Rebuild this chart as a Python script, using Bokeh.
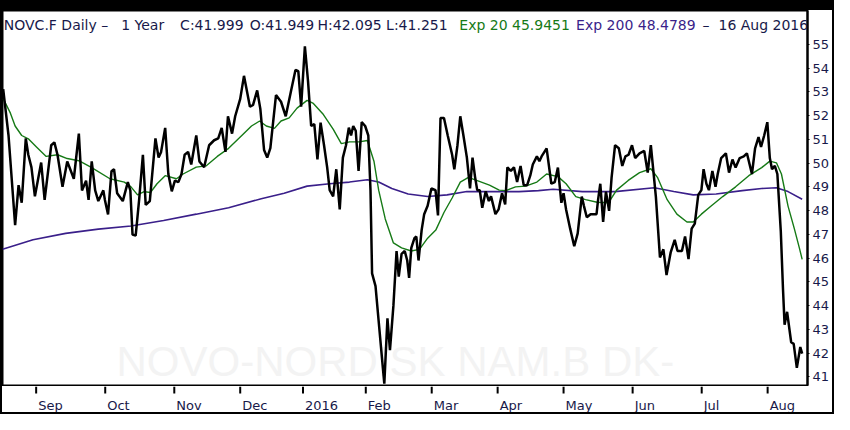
from bokeh.plotting import figure
from bokeh.layouts import column
from bokeh.models import Range1d, FixedTicker, Label
from bokeh.core.properties import value
from bokeh.embed import file_html
from bokeh.resources import INLINE

# ---- data (trading-day position, value) ----
close_day = [0.5, 2.2, 4.3, 5.4, 6.4, 7.7, 8.5, 9.5, 10.6, 12.6,
             13.7, 15.8, 16.8, 17.8, 19.4, 20.9, 23.0, 24.6, 25.6, 26.9,
             27.7, 28.7, 29.8, 30.8, 32.4, 32.9, 33.9, 35.0, 35.8, 36.8,
             38.6, 40.2, 41.0, 41.7, 42.7, 43.8, 45.0, 45.9, 47.2, 49.0,
             50.0, 50.8, 52.1, 53.1, 54.2, 55.2, 56.3, 57.3, 58.3, 59.4,
             60.4, 62.0, 63.0, 64.5, 66.1, 67.7, 69.0, 70.1, 71.3, 72.1,
             73.4, 74.4, 76.0, 77.2, 79.1, 80.1, 81.4, 82.4, 83.6, 84.6,
             85.6, 87.4, 89.0, 90.5, 92.1, 93.6, 94.5, 95.4, 96.6, 97.6,
             98.6, 99.6, 100.6, 101.6, 102.7, 103.7, 104.5, 105.6, 106.6, 107.7,
             108.7, 109.7, 110.6, 111.3, 112.0, 112.8, 113.7, 114.7, 115.8, 116.8,
             117.5, 118.0, 119.1, 120.1, 121.2, 121.9, 122.9, 123.7, 124.8, 125.8,
             126.5, 127.4, 128.4, 129.2, 129.8, 130.5, 131.5, 132.1, 132.8, 133.8,
             134.6, 135.7, 136.9, 138.2, 139.0, 139.8, 140.9, 142.1, 143.5, 144.2,
             145.2, 146.1, 147.1, 148.2, 149.2, 150.0, 150.8, 151.5, 152.3, 153.1,
             154.2, 155.2, 155.9, 157.3, 158.3, 159.4, 160.4, 161.1, 162.2, 163.2,
             164.2, 165.3, 166.3, 167.4, 168.4, 169.2, 170.5, 171.3, 172.0, 173.6,
             175.1, 176.2, 177.2, 178.3, 179.0, 179.8, 181.1, 182.4, 183.5, 184.8,
             185.5, 186.4, 187.6, 189.5, 190.0, 190.7, 191.6, 192.5, 193.5, 194.3,
             195.4, 196.6, 197.7, 198.7, 199.7, 200.8, 201.8, 203.2, 204.7, 205.8,
             206.8, 208.4, 209.7, 210.8, 211.8, 213.1, 214.4, 215.3, 216.7, 217.7,
             218.8, 219.8, 220.8, 221.9, 222.9, 223.6, 224.5, 225.3, 226.4, 227.4,
             228.1, 229.2, 230.7, 231.7, 232.8, 233.8, 235.1, 236.4, 237.4, 239.0,
             240.0, 241.1, 241.9, 242.9, 243.9, 244.7, 245.4, 246.3, 247.1, 248.2,
             248.9, 249.4, 250.2, 251.5, 252.3, 253.3, 254.4, 255.0]
close = [53.11, 51.16, 47.39, 49.07, 48.33, 51.04, 50.35, 49.82, 48.6, 50.02,
         48.45, 50.75, 50.87, 50.35, 49.0, 50.07, 49.34, 51.24, 48.85, 49.26,
         48.45, 50.07, 48.85, 48.4, 48.85, 48.45, 47.84, 49.66, 49.74, 48.73,
         48.4, 49.2, 48.85, 46.99, 46.95, 48.45, 50.35, 48.24, 48.4, 51.04,
         50.23, 50.47, 51.48, 49.54, 48.81, 49.26, 49.2, 49.54, 50.35, 50.47,
         49.94, 51.16, 50.07, 49.82, 50.75, 50.96, 51.04, 51.48, 50.47, 51.97,
         51.24, 51.97, 52.7, 53.67, 52.37, 52.45, 53.06, 52.29, 50.55, 50.23,
         50.63, 52.86, 52.58, 51.97, 52.98, 53.92, 53.87, 52.37, 54.91, 53.45,
         51.56, 51.64, 50.15, 51.7, 50.75, 49.82, 48.86, 48.6, 49.74, 48.05,
         50.23, 50.75, 51.49, 51.16, 51.56, 51.36, 49.67, 51.72, 51.56, 51.16,
         48.86, 45.36, 44.82, 43.35, 41.73, 40.72, 43.47, 42.13, 44.0, 46.3,
         45.22, 46.18, 46.3, 45.9, 45.17, 46.43, 46.84, 46.91, 45.9, 47.19,
         47.85, 48.2, 48.93, 48.86, 47.8, 51.9, 51.9, 51.16, 50.35, 49.74,
         50.75, 51.97, 51.16, 50.23, 48.93, 50.23, 49.42, 48.86, 48.86, 48.12,
         48.81, 48.4, 48.6, 47.85, 48.05, 48.73, 48.26, 49.82, 49.67, 49.82,
         49.2, 49.88, 49.07, 49.07, 49.48, 49.94, 50.28, 50.08, 50.28, 50.62,
         49.13, 49.2, 49.81, 48.33, 48.73, 48.05, 47.24, 46.5, 47.04, 48.59,
         48.19, 47.72, 47.85, 47.85, 48.46, 49.13, 47.52, 48.8, 47.99, 49.4,
         50.75, 50.62, 49.88, 50.28, 50.35, 50.75, 50.21, 50.41, 50.51, 49.6,
         50.75, 48.59, 46.03, 46.37, 45.29, 46.23, 46.77, 46.3, 46.3, 46.91,
         45.96, 47.24, 47.45, 48.66, 48.86, 49.74, 49.13, 48.86, 49.67, 49.0,
         49.54, 50.21, 50.41, 49.6, 50.15, 49.81, 50.21, 50.28, 50.41, 49.54,
         50.62, 51.09, 50.68, 51.16, 51.72, 50.21, 49.74, 49.88, 49.54, 47.11,
         44.68, 43.2, 43.74, 42.46, 42.39, 41.38, 42.26, 41.98]

ema20_day = [0.5, 2.8, 4.3, 6.4, 8.5, 11.1, 14.2, 17.8, 20.9, 24.6,
             28.7, 34.5, 39.1, 41.2, 43.3, 45.4, 47.4, 49.5, 52.1, 55.7,
             57.8, 62.0, 65.1, 68.7, 72.3, 76.5, 79.6, 82.2, 84.3, 86.9,
             89.0, 91.6, 94.1, 97.3, 99.3, 102.5, 105.6, 108.2, 110.8, 113.9,
             116.5, 118.6, 120.1, 122.2, 124.8, 127.4, 130.5, 133.1, 135.7, 138.3,
             140.9, 143.5, 146.1, 148.7, 151.3, 155.4, 158.5, 160.6, 163.7, 166.9,
             170.5, 173.6, 177.2, 179.8, 182.9, 186.0, 189.7, 193.3, 195.9, 199.6,
             203.2, 206.8, 208.9, 212.0, 215.1, 218.3, 220.3, 222.9, 226.0, 229.7,
             233.8, 238.0, 242.1, 244.7, 246.8, 248.4, 250.5, 252.5, 254.1, 255.0]
ema20 = [52.71, 52.1, 51.56, 51.16, 51.02, 50.68, 50.28, 50.35, 50.19, 50.1,
         49.81, 49.34, 49.2, 49.0, 48.66, 48.8, 48.76, 49.13, 49.47, 49.34,
         49.54, 49.83, 49.88, 50.28, 50.62, 51.16, 51.56, 51.77, 51.56, 51.46,
         51.77, 51.9, 52.31, 52.64, 52.51, 52.04, 51.43, 50.82, 50.89, 50.89,
         50.95, 50.08, 48.86, 47.65, 46.64, 46.43, 46.3, 46.37, 46.84, 47.18,
         47.92, 48.53, 49.2, 49.4, 49.27, 49.07, 48.86, 48.84, 49.0, 49.03,
         49.2, 49.54, 49.43, 49.13, 48.59, 48.46, 48.35, 48.33, 48.86, 49.27,
         49.6, 49.76, 49.4, 48.46, 47.85, 47.52, 47.52, 47.85, 48.19, 48.59,
         49.0, 49.47, 49.81, 50.08, 50.01, 49.54, 48.19, 47.24, 46.43, 45.95]

ema200_day = [0.3, 10.0, 20.4, 30.8, 41.2, 51.6, 62.0, 72.3, 82.7, 90.0,
              97.3, 104.5, 110.8, 116.5, 120.1, 124.3, 129.5, 135.7, 141.9, 148.2,
              156.4, 164.8, 171.0, 175.7, 185.0, 195.4, 207.9, 214.1, 220.3, 227.6,
              235.9, 242.1, 246.8, 250.5, 255.0]
ema200 = [46.37, 46.77, 47.04, 47.22, 47.35, 47.58, 47.85, 48.12, 48.5, 48.73,
          49.03, 49.13, 49.2, 49.3, 49.2, 48.93, 48.7, 48.59, 48.66, 48.8,
          48.8, 48.8, 48.84, 48.9, 48.8, 48.8, 48.96, 48.8, 48.66, 48.7,
          48.84, 48.93, 48.96, 48.8, 48.48]

month_ticks = [11, 33, 55, 76, 96, 116, 137, 158, 179, 201, 223, 244]
month_labels = ["Sep", "Oct", "Nov", "Dec", "2016", "Feb", "Mar", "Apr",
                "May", "Jun", "Jul", "Aug"]
price_ticks = [41, 42, 43, 44, 45, 46, 47, 48, 49, 50, 51, 52, 53, 54, 55]

title_parts = ["NOVC.F Daily \u2013", "1 Year", "C:41.999", "O:41.949", "H:42.095",
               "L:41.251", "Exp 20 45.9451", "Exp 200 48.4789", "\u2013", "16 Aug 2016"]
watermark = "NOVO-NORDISK NAM.B DK-"

# ---- styling ----
TXT = "#18194a"
GREEN = "#167a16"
PURPLE = "#3a1f8a"
FONT = "DejaVu Sans"
Y0, Y1 = 40.64, 56.42
STRIP_H = 26

xr = Range1d(0.28, 256.7)

# ---------- main price panel ----------
p = figure(width=830, height=376, output_backend="svg", toolbar_location=None,
           title=None, x_range=xr, y_range=Range1d(Y0, Y1),
           y_axis_location="right", x_axis_location=None,
           min_border_left=0, min_border_top=0, min_border_right=23, min_border_bottom=1)
p.outline_line_color = "black"
p.outline_line_width = 2
p.xgrid.visible = False
p.ygrid.visible = False
p.background_fill_color = "white"
p.border_fill_color = "white"

p.add_layout(Label(x=114, y=Y0, x_units="screen", y_units="data", y_offset=24,
                   text=watermark, text_font="Liberation Sans", text_font_size="42px",
                   text_color="#f3f3f3", text_baseline="alphabetic", level="underlay"))

p.line(ema200_day, ema200, line_color=PURPLE, line_width=1.6)
p.line(ema20_day, ema20, line_color=GREEN, line_width=1.4)
p.line(close_day, close, line_color="black", line_width=2.5)

ya = p.yaxis[0]
ya.ticker = FixedTicker(ticks=price_ticks, minor_ticks=[])
ya.axis_line_color = "black"
ya.axis_line_width = 2
ya.major_tick_in = 0
ya.major_tick_out = 2
ya.major_tick_line_color = "black"
ya.minor_tick_out = 0
ya.major_label_standoff = 3
ya.major_label_text_font = FONT
ya.major_label_text_font_size = "13px"
ya.major_label_text_color = TXT

title_x = [1.3, 118.7, 177.6, 247.2, 315.0, 383.6, 456.8, 573.6, 700.0, 716.0]
title_c = [TXT, TXT, TXT, TXT, TXT, TXT, GREEN, PURPLE, TXT, TXT]
for tx, txt, col in zip(title_x, title_parts, title_c):
    p.add_layout(Label(x=tx, y=Y1, x_units="screen", y_units="data", y_offset=-14.5,
                       text=txt, text_font=FONT, text_font_size="14px",
                       text_color=col, text_baseline="alphabetic"))

# ---------- month strip (ticks + left-aligned labels) ----------
s = figure(width=830, height=STRIP_H, output_backend="svg", toolbar_location=None,
           title=None, x_range=xr, y_range=Range1d(0, STRIP_H),
           x_axis_location=None, y_axis_location=None,
           min_border_left=0, min_border_top=0, min_border_right=23, min_border_bottom=0)
s.outline_line_color = None
s.xgrid.visible = False
s.ygrid.visible = False
s.background_fill_color = "white"
s.border_fill_color = "white"

n = len(month_ticks)
s.segment(x0=month_ticks, y0=[STRIP_H] * n, x1=month_ticks, y1=[STRIP_H - 7] * n,
          line_color="black", line_width=2)
s.text(x=month_ticks, y=[7] * n, text=month_labels, x_offset=2,
       text_font=value(FONT), text_font_size="13px", text_color=TXT,
       text_align="left", text_baseline="alphabetic")

layout = column(p, s, spacing=0)
layout.styles = {"box-sizing": "content-box", "border-style": "solid",
                 "border-color": "black", "border-width": "10px 2px 2px 2px"}

open("out.html", "w").write(file_html(layout, INLINE))
